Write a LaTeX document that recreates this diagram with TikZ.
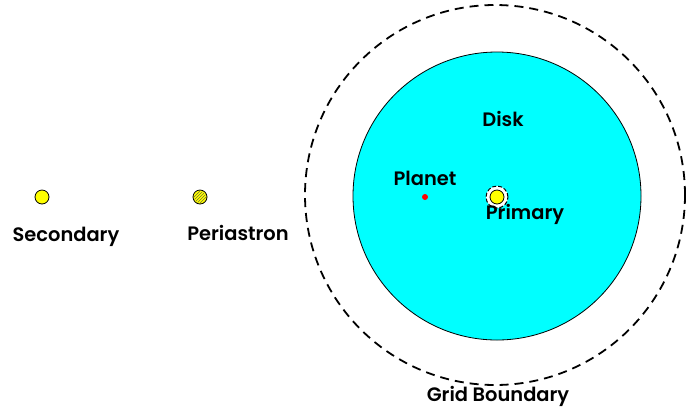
\documentclass[tikz,border=0pt]{standalone}
\usepackage{fontspec}
\setmainfont{Poppins}[BoldFont={Poppins SemiBold}]
\usetikzlibrary{positioning,patterns}
\definecolor{diskcyan}{HTML}{00FFFF}
\definecolor{staryellow}{HTML}{FFFF00}

\begin{document}
\begin{tikzpicture}[
    x=1bp, y=-1bp,
    star/.style={draw, circle, fill=staryellow, minimum size=14bp,
                 inner sep=0pt, line width=0.8bp},
    lbl/.style={font=\fontsize{19.5}{22}\selectfont\bfseries, inner sep=0pt},
    bound/.style={draw, circle, dashed, dash pattern=on 9bp off 6bp,
                  line width=1.8bp, inner sep=0pt},
]
\useasboundingbox[clip] (0,0) rectangle (686,412);

% grid boundary and disk
\node[bound, minimum size=380bp] (grid) at (495,195) {};
\node[draw, circle, fill=diskcyan, minimum size=288bp, inner sep=0pt,
      line width=0.8bp] (disk) at (497,196) {};
\node[lbl] (disklbl) at (503,119) {Disk};
\node[lbl] (gridlbl) at (498,396) {Grid Boundary};

% planet
\node[circle, fill=red, minimum size=6bp, inner sep=0pt] (planet) at (425,197) {};
\node[lbl] (planetlbl) at ([yshift=19bp]planet.center) {Planet};

% primary
\node[bound, fill=white, minimum size=22bp, line width=1bp,
      dash pattern=on 4bp off 2bp] (primring) at (497,197) {};
\node[star] (primary) at (primring.center) {};
\node[lbl] (primlbl) at ([xshift=28bp, yshift=-17bp]primary.center) {Primary};

% secondary
\node[star] (secondary) at (42,197) {};
\node[lbl] (seclbl) at ([xshift=24bp, yshift=-40bp]secondary.center) {Secondary};

% periastron
\node[star] (peri) at (200,197) {};
\fill[pattern=north east lines, pattern color=black!70] (peri) circle (6bp);
\node[lbl] (perilbl) at ([xshift=38bp, yshift=-36bp]peri.center) {Periastron};

\end{tikzpicture}
\end{document}
